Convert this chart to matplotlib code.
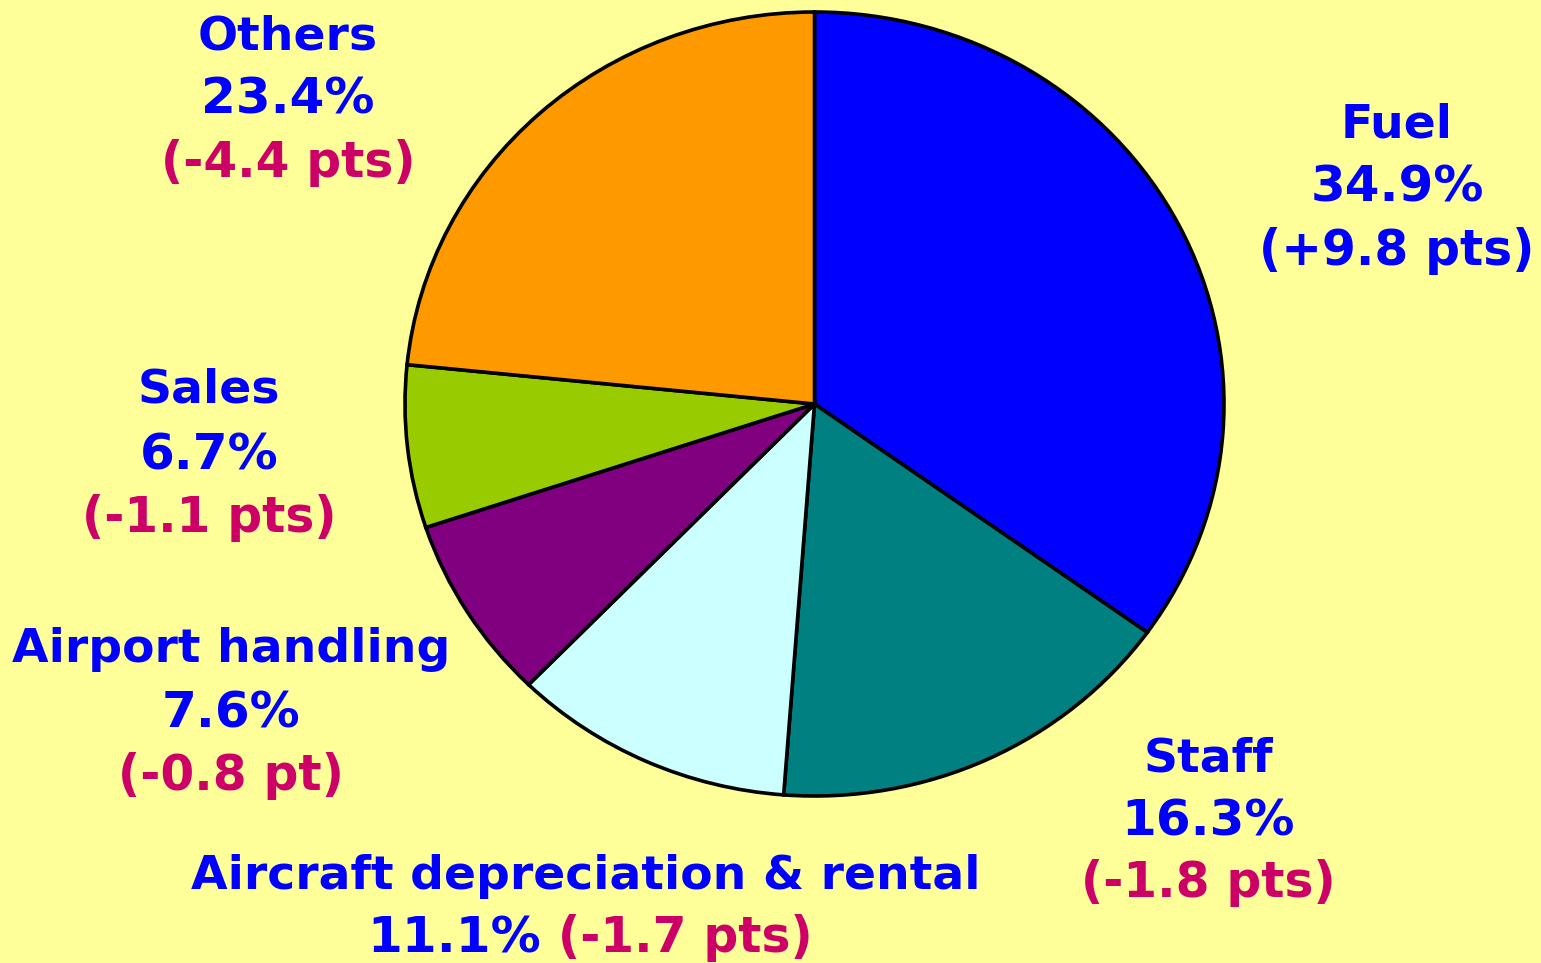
import matplotlib.pyplot as plt

# Cost breakdown (share of total, change vs previous year)
categories = ["Fuel", "Staff", "Aircraft depreciation & rental",
              "Airport handling", "Sales", "Others"]
shares = [34.9, 16.3, 11.1, 7.6, 6.7, 23.4]
changes = ["(+9.8 pts)", "(-1.8 pts)", "(-1.7 pts)",
           "(-0.8 pt)", "(-1.1 pts)", "(-4.4 pts)"]
slice_colors = ["#0000FF", "#008080", "#CCFFFF", "#800080", "#99CC00", "#FF9900"]

W, H = 1541, 963
BG = "#FFFF99"
BLUE = "#0000FF"
RED = "#CC0066"
FS = 34

fig = plt.figure(figsize=(W / 100, H / 100), dpi=100, facecolor=BG)
ax = fig.add_axes([0, 0, 1, 1])
ax.set_facecolor(BG)

ax.pie(shares, colors=slice_colors, startangle=90, counterclock=False,
       wedgeprops=dict(edgecolor="black", linewidth=2.6))

# pie is slightly wider than tall in the original
cx, cy, rx, ry = 814.5, 404, 409.5, 392
ax.set_aspect("auto")
ax.set_xlim(-cx / rx, (W - cx) / rx)
ax.set_ylim(-(H - cy) / ry, cy / ry)
ax.axis("off")


def put(x, y, s, color, ha="center", size=FS):
    fig.text(x / W, 1 - y / H, s, color=color, fontsize=size, fontweight="bold",
             ha=ha, va="baseline", family="DejaVu Sans")


# label anchors (pixel x, baselines)
label_pos = {
    "Fuel": (1397, [137, 202, 265]),
    "Staff": (1208, [771, 835, 897]),
    "Airport handling": (231, [662, 727, 790]),
    "Sales": (209, [402, 469, 532]),
    "Others": (288, [50, 114, 177]),
}

for name, share, chg in zip(categories, shares, changes):
    if name in label_pos:
        x, ys = label_pos[name]
        put(x, ys[0], name, BLUE)
        put(x, ys[1], f"{share}%", BLUE, size=FS + 2)
        put(x, ys[2], chg, BLUE if chg.startswith("(+") else RED, size=FS + 1)
    else:
        put(586, 889, name, BLUE)
        put(541, 952, f"{share}%", BLUE, ha="right", size=FS + 2)
        put(558, 952, chg, RED, ha="left", size=FS + 1)

fig.savefig("out.png", dpi=100, facecolor=BG)
